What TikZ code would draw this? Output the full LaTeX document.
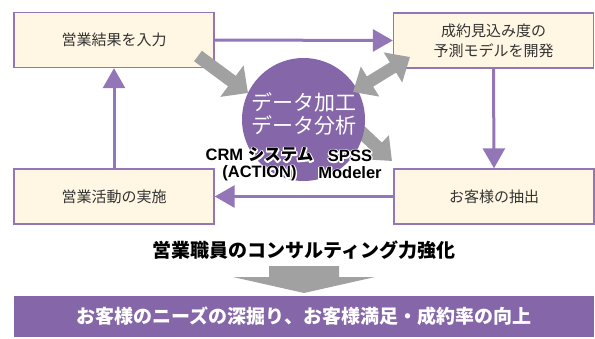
\documentclass[tikz,border=0pt]{standalone}
\usepackage{fontspec}
\setmainfont{Noto Sans CJK JP}
\newfontfamily\lsans{Liberation Sans}
\usetikzlibrary{arrows.meta}
\definecolor{boxfill}{HTML}{FFF7E3}
\definecolor{purpleline}{HTML}{9276B8}
\definecolor{circfill}{HTML}{8566A8}
\definecolor{grayarrow}{HTML}{A0A1A0}
\definecolor{bannerfill}{HTML}{8566A8}
\definecolor{boxtext}{HTML}{333333}
\newcommand\myhalo[1]{\rlap{\special{pdf:literal direct 1 1 1 RG 2.6 w 1 j 1 Tr}#1\special{pdf:literal direct 0 Tr 0 0 0 RG 0.4 w 0 j}}#1}
\tikzset{
  stepbox/.style={draw=purpleline, line width=1.4pt, fill=boxfill, minimum width=200pt, minimum height=55pt, inner sep=0pt, text=boxtext, font=\fontsize{15pt}{20pt}\selectfont, align=center},
  conn/.style={draw=purpleline, line width=3pt, -{Triangle[length=20pt,width=22pt]}},
  fatarrow/.style={draw=grayarrow, line width=13pt},
  tooltext/.style={font=\fontsize{16.5pt}{17pt}\selectfont\bfseries, align=center, inner sep=0pt},
}
\begin{document}
\begin{tikzpicture}[x=1pt,y=-1pt]
\useasboundingbox (0,0) rectangle (595,338);
% boxes
\node[stepbox] (b1) at (114,40) {営業結果を入力};
\node[stepbox] (b2) at (493.5,40.5) {成約見込み度の\\予測モデルを開発};
\node[stepbox] (b3) at (114,196.5) {営業活動の実施};
\node[stepbox] (b4) at (494,196.5) {お客様の抽出};
% connectors
\draw[conn] (b1.east) -- (b2.west);
\draw[conn] (b2.south) -- (b4.north);
\draw[conn] (b4.west) -- (b3.east);
\draw[conn] (b3.north) -- (b1.south);
% gray arrow behind circle
\coordinate (a3s) at (340,112);
\coordinate (a3e) at (392,161);
\draw[fatarrow, -{Triangle[length=20pt,width=32pt]}] (a3s) -- (a3e);
% circle
\node[circle, fill=circfill, minimum size=123pt, inner sep=0pt] (c) at (303.5,119.5) {};
% gray arrows over circle
\coordinate (a1s) at (198,56);
\coordinate (a1e) at (248,93);
\draw[fatarrow, -{Triangle[length=20pt,width=38pt]}] (a1s) -- (a1e);
\coordinate (a2s) at (353,92);
\coordinate (a2e) at (410,57);
\draw[fatarrow, line width=12pt, {Triangle[length=20pt,width=34pt]}-{Triangle[length=20pt,width=34pt]}] (a2s) -- (a2e);
% circle text
\node[text=white, font=\fontsize{21pt}{23pt}\selectfont, align=center, inner sep=0pt] (ct) at (304,113.5) {データ加工\\データ分析};
\node[tooltext] (crm) at (259.5,164.5) {\myhalo{{\lsans\bfseries CRM }システム}\\\myhalo{{\lsans\bfseries (ACTION)}}};
\node[tooltext] (spss) at (350,164.5) {\myhalo{{\lsans\bfseries SPSS}}\\\myhalo{{\lsans\bfseries Modeler}}};
% bottom
\node[font=\fontsize{19pt}{21pt}\selectfont\bfseries, inner sep=0pt] (cons) at (304,250) {営業職員のコンサルティング力強化};
\fill[grayarrow] (269,266) -- (339,266) -- (339,277) -- (375,277) -- (304,293) -- (233,277) -- (269,277) -- cycle;
\node[fill=bannerfill, minimum width=580pt, minimum height=41pt, inner sep=0pt, text=white, font=\fontsize{19pt}{21pt}\selectfont\bfseries] (banner) at (304,316.5) {お客様のニーズの深掘り、お客様満足・成約率の向上};
\end{tikzpicture}
\end{document}
